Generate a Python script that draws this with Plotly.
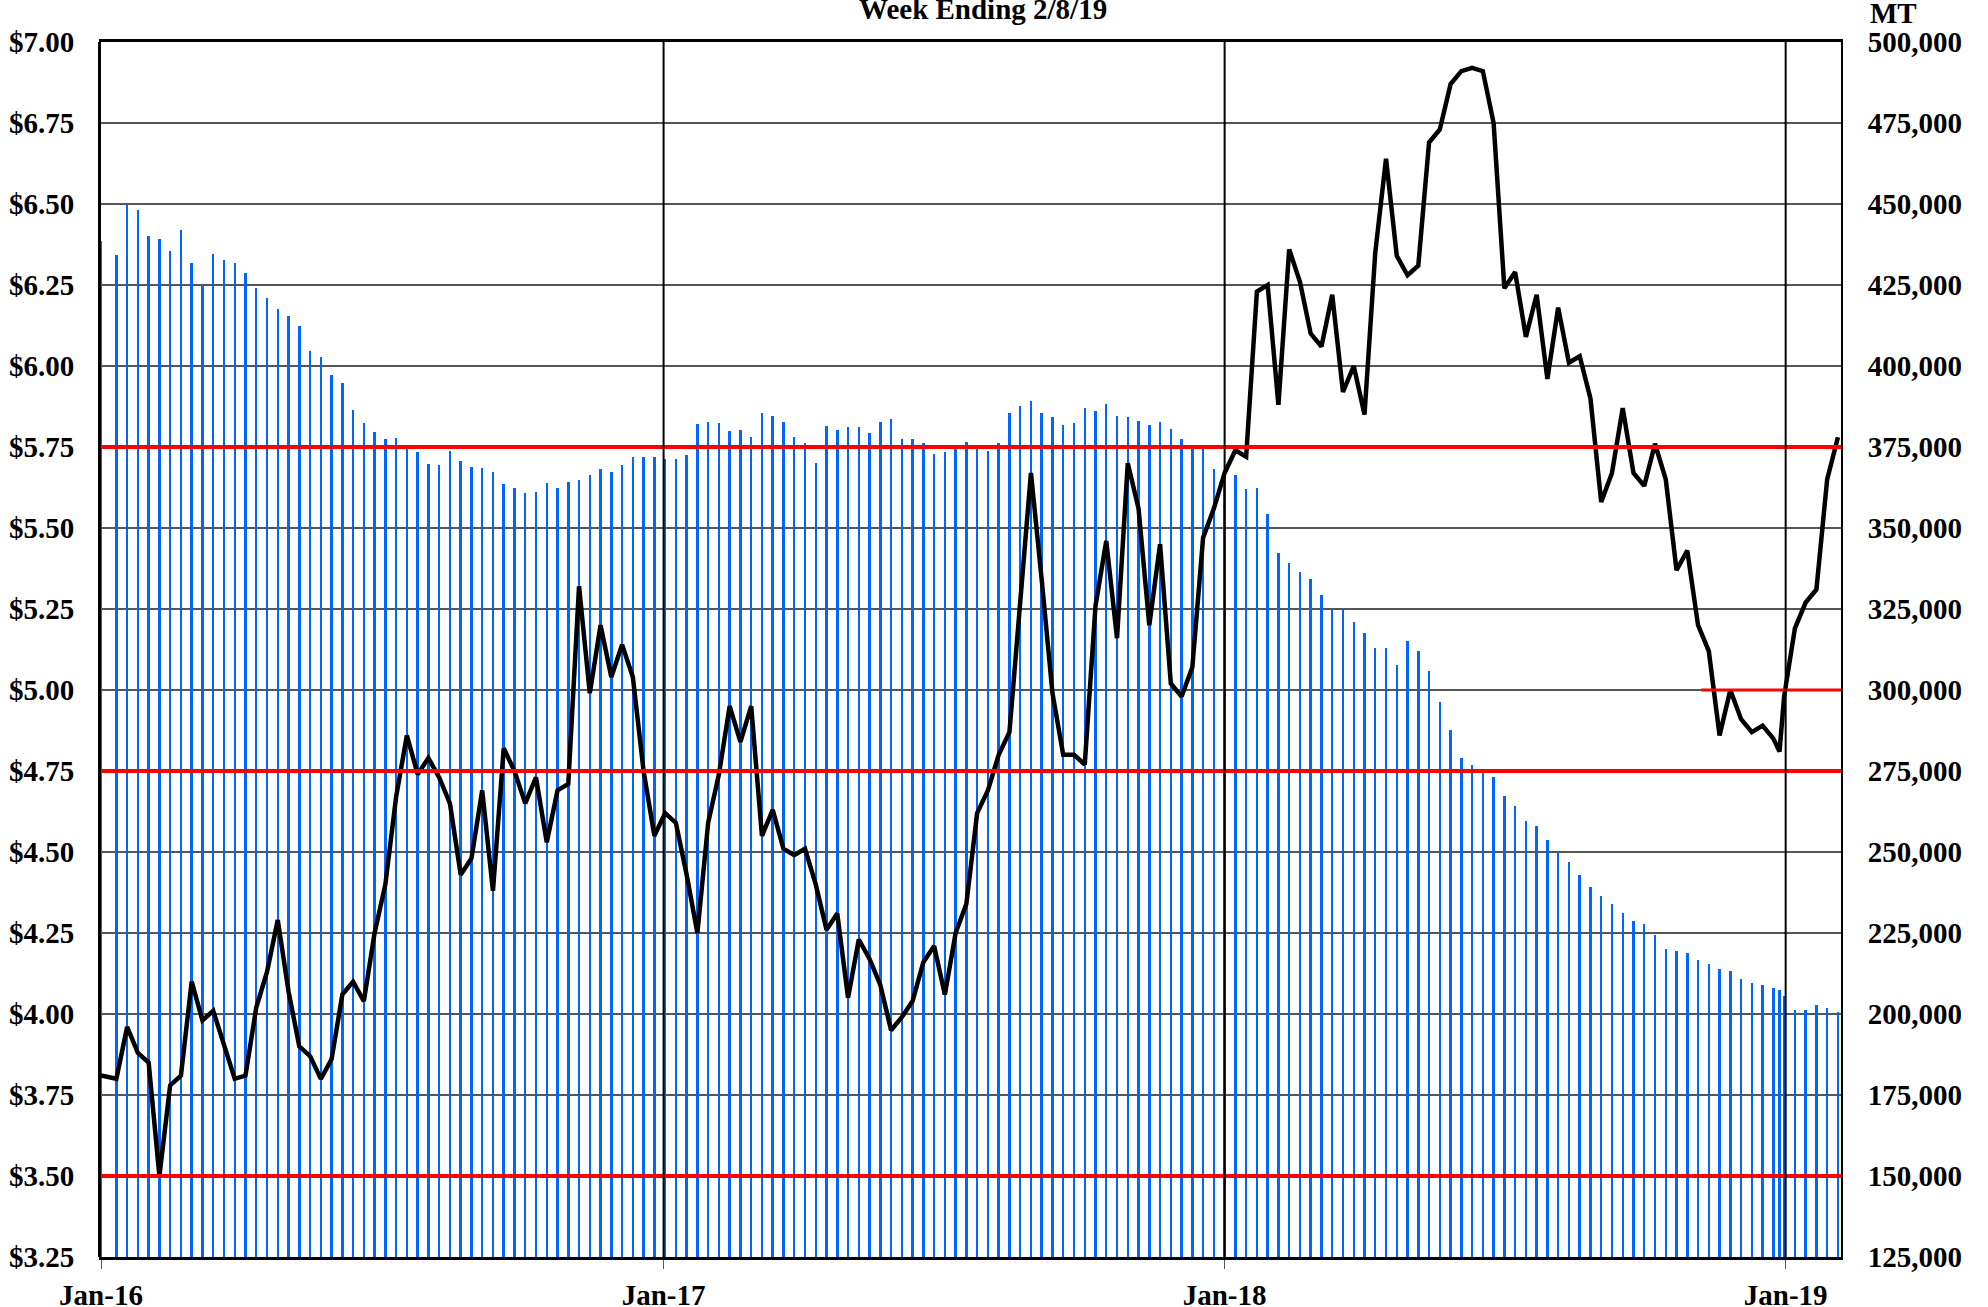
import pandas as pd
import plotly.graph_objects as go

# ---- data -------------------------------------------------------------
weekly = list(pd.date_range("2016-01-11", periods=161, freq="7D"))
dates = [pd.Timestamp("2016-01-01")] + weekly[:155] + [pd.Timestamp("2018-12-28")] + weekly[155:]

price = [3.81,
    3.80, 3.96, 3.88, 3.85, 3.50, 3.78, 3.81, 4.10, 3.98, 4.01,
    3.90, 3.80, 3.81, 4.02, 4.13, 4.29, 4.07, 3.90, 3.87, 3.80,
    3.86, 4.06, 4.10, 4.04, 4.25, 4.40, 4.67, 4.86, 4.74, 4.79,
    4.73, 4.65, 4.43, 4.48, 4.69, 4.38, 4.82, 4.75, 4.65, 4.73,
    4.53, 4.69, 4.71, 5.32, 4.99, 5.20, 5.04, 5.14, 5.04, 4.75,
    4.55, 4.62, 4.59, 4.43, 4.25, 4.59, 4.74, 4.95, 4.84, 4.95,
    4.55, 4.63, 4.51, 4.49, 4.51, 4.40, 4.26, 4.31, 4.05, 4.23,
    4.17, 4.09, 3.95, 3.99, 4.04, 4.16, 4.21, 4.06, 4.25, 4.34,
    4.62, 4.69, 4.80, 4.87, 5.27, 5.67, 5.34, 4.99, 4.80, 4.80,
    4.77, 5.26, 5.46, 5.16, 5.70, 5.56, 5.20, 5.45, 5.02, 4.98,
    5.07, 5.47, 5.56, 5.67, 5.74, 5.72, 6.23, 6.25, 5.88, 6.36,
    6.26, 6.10, 6.06, 6.22, 5.92, 6.00, 5.85, 6.35, 6.64, 6.34,
    6.28, 6.31, 6.69, 6.73, 6.87, 6.91, 6.92, 6.91, 6.75, 6.24,
    6.29, 6.09, 6.22, 5.96, 6.18, 6.01, 6.03, 5.90, 5.58, 5.67,
    5.87, 5.67, 5.63, 5.76, 5.65, 5.37, 5.43, 5.20, 5.12, 4.86,
    5.00, 4.91, 4.87, 4.89, 4.85, 4.81,
    4.98, 5.19, 5.27, 5.31, 5.65, 5.78]

stocks_mt = [438500,
    434200, 450300, 448300, 440000, 439100, 435400, 441900, 431900, 425000, 434500,
    432800, 431900, 428700, 424200, 421100, 417500, 415400, 412500, 404700, 402900,
    397300, 394900, 386500, 382300, 379700, 377600, 377900, 375600, 373400, 369800,
    369500, 373800, 370800, 368800, 368400, 367400, 363700, 362300, 360700, 361250,
    363900, 362300, 364100, 364900, 366300, 368200, 367200, 369300, 371800, 372000,
    371800, 371400, 371300, 372400, 382100, 382600, 382400, 380000, 380100, 378200,
    385400, 384700, 382800, 378000, 376100, 370000, 381400, 380100, 381200, 381100,
    379400, 382650, 383700, 377400, 377400, 376300, 372700, 373500, 374600, 376600,
    374600, 373700, 376100, 385400, 387800, 389300, 385500, 384400, 381800, 382400,
    386900, 386000, 388400, 384700, 384400, 382900, 381700, 382800, 380500, 377400,
    374700, 374600, 368300, 367400, 366500, 362000, 362300, 354300, 342400, 339250,
    336450, 334400, 329200, 325100, 325100, 320900, 317600, 313100, 313100, 307850,
    315100, 311900, 306000, 296400, 287700, 279000, 277000, 275000, 273000, 267400,
    264200, 259700, 257900, 253700, 249900, 246800, 242900, 239100, 236400, 233800,
    231200, 228700, 227900, 224300, 220000, 219500, 218750, 216700, 215400, 214000,
    213400, 210900, 209600, 209000, 207900, 207300,
    205700, 201100, 201200, 202800, 201700, 200500]

ref_lines_full = [5.75, 4.75, 3.50]
ref_line_short = 5.00
ref_line_short_start = "2018-11-07"

x_start, x_end = "2016-01-01", "2019-02-06"
year_ticks = ["2016-01-01", "2017-01-01", "2018-01-01", "2019-01-01"]
year_labels = ["Jan-16", "Jan-17", "Jan-18", "Jan-19"]
title_text = "Week Ending 2/8/19"
unit_text = "MT"

# ---- figure -----------------------------------------------------------
FONT = "Liberation Serif"
fig = go.Figure()

fig.add_trace(go.Bar(
    x=dates, y=stocks_mt, yaxis="y", width=1.6 * 86400000,
    marker=dict(color="#0066ff", line=dict(width=0)), showlegend=False,
))
fig.add_trace(go.Scatter(
    x=dates, y=price, yaxis="y2", mode="lines",
    line=dict(color="black", width=4.5), showlegend=False,
))

shapes = []
for v in ref_lines_full:
    shapes.append(dict(type="line", xref="paper", x0=0, x1=1, yref="y2", y0=v, y1=v,
                       line=dict(color="#ff0000", width=4), layer="above"))
shapes.append(dict(type="line", xref="x", x0=ref_line_short_start, x1=x_end, yref="y2",
                   y0=ref_line_short, y1=ref_line_short,
                   line=dict(color="#ff0000", width=3), layer="above"))
for t in year_ticks[1:]:
    shapes.append(dict(type="line", xref="x", x0=t, x1=t, yref="paper", y0=0, y1=1,
                       line=dict(color="black", width=2), layer="above"))

tickfont = dict(family=FONT, size=29, color="black", weight="bold")

fig.update_layout(
    width=1988, height=1307,
    margin=dict(l=101, r=147, t=42, b=50, autoexpand=False),
    paper_bgcolor="white", plot_bgcolor="white",
    bargap=0,
    shapes=shapes,
    xaxis=dict(
        type="date", range=[x_start, x_end], automargin=False,
        tickvals=year_ticks, ticktext=year_labels,
        ticks="outside", ticklen=9, tickcolor="#555", tickwidth=1,
        showgrid=False, zeroline=False,
        showline=True, linecolor="black", linewidth=3, mirror=True,
        tickfont=tickfont, ticklabelstandoff=1,
    ),
    yaxis=dict(
        side="right", range=[125000, 500000], dtick=25000, tick0=125000, automargin=False,
        tickformat=",", showgrid=True, gridcolor="#555555", gridwidth=1.5,
        zeroline=False, showline=True, linecolor="black", linewidth=2, mirror=True,
        ticks="", tickfont=tickfont, ticklabelstandoff=19,
    ),
    yaxis2=dict(
        side="left", overlaying="y", range=[3.25, 7.0], dtick=0.25, tick0=3.25, automargin=False,
        tickformat="$.2f", showgrid=False, zeroline=False,
        showline=True, linecolor="black", linewidth=3,
        ticks="", tickfont=tickfont, ticklabelstandoff=18,
    ),
    annotations=[
        dict(text=title_text, xref="paper", yref="paper", x=0.507, y=1,
             xanchor="center", yanchor="middle", yshift=33, showarrow=False,
             font=dict(family=FONT, size=29, color="black", weight="bold")),
        dict(text=unit_text, xref="paper", yref="paper", x=1, y=1,
             xanchor="left", yanchor="middle", xshift=27, yshift=29, showarrow=False,
             font=dict(family=FONT, size=29, color="black", weight="bold")),
    ],
)

fig.write_html("out.html", config={"displayModeBar": False},
               post_script="document.body.style.margin='0';")
